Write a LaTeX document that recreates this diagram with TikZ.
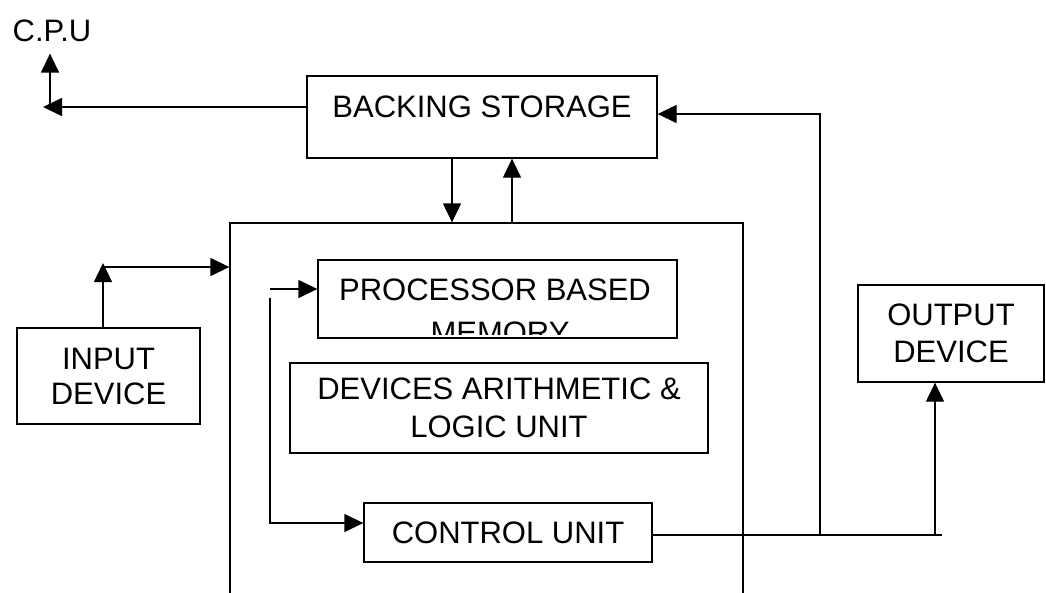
\documentclass[tikz,border=0pt]{standalone}
\usepackage{fontspec}
\setmainfont{Liberation Sans}
\usetikzlibrary{arrows.meta}
\begin{document}
\begin{tikzpicture}[x=1pt,y=-1pt,
  line width=1.3pt,
  box/.style={draw, rectangle, inner sep=0pt, align=center, font=\fontsize{31}{37}\selectfont},
  txt/.style={inner sep=0pt, font=\fontsize{31}{37}\selectfont},
  arr/.style={-{Triangle[length=19pt,width=18pt]}},
]
\useasboundingbox (0,0) rectangle (1046,592);
\clip (0,0) rectangle (1046,592);

% nodes
\node[txt, inner ysep=11pt] (cpul) at (52,31) {C.P.U};
\node[box, minimum width=350pt, text height=41pt, text depth=41pt] (bs) at (482,117) {BACKING STORAGE};
\node[draw, minimum width=513pt, minimum height=417pt, inner sep=0pt] (cpu) at (486.5,431.5) {};
\node[box, minimum width=183pt, minimum height=96pt, font=\fontsize{31}{35}\selectfont] (inp) at (108.5,376) {INPUT\\DEVICE};
\node[box, minimum width=186pt, minimum height=97pt] (out) at (951,333.5) {OUTPUT\\DEVICE};
\node[box, minimum width=418pt, minimum height=90pt, font=\fontsize{31}{38}\selectfont] (dal) at (499,408) {DEVICES ARITHMETIC \&\\LOGIC UNIT};
\node[box, minimum width=288pt, minimum height=59pt] (cu) at (508,532.5) {CONTROL UNIT};
\node[draw, minimum width=359pt, minimum height=78pt, inner sep=0pt,
  path picture={
    \clip ([yshift=4pt]path picture bounding box.south west) rectangle (path picture bounding box.north east);
    \node[txt, anchor=base] at ([shift={(-2.5,1)}]path picture bounding box.center) {PROCESSOR BASED};
    \node[txt, anchor=base] at ([shift={(2.5,44)}]path picture bounding box.center) {MEMORY};
  }] (pbm) at (497.5,299) {};

% coordinates
\coordinate (ctip) at (43,107);
\coordinate (cj) at (50,107);
\coordinate (dx) at (452,0);
\coordinate (ux) at (512,0);
\coordinate (i1) at (103,263);
\coordinate (i2) at (103,267);
\coordinate (p1) at (270,289);
\coordinate (p2) at (270,298);
\coordinate (p3) at (270,523);
\coordinate (o1) at (942,535);
\coordinate (o2) at (820,535);
\coordinate (o3) at (820,114);
\coordinate (o4) at (935,535);

% connectors
\draw[arr] ([yshift=10pt]bs.west) -- (ctip);
\draw[arr] (cj) -- (cj |- cpul.south);
\draw[arr] (bs.south -| dx) -- (cpu.north -| dx);
\draw[arr] (cpu.north -| ux) -- (bs.south -| ux);
\draw[arr] (inp.north -| i1) -- (i1);
\draw[arr] (i2) -- (i2 -| cpu.west);
\draw[arr] (p1) -- (p1 -| pbm.west);
\draw[arr] (p2) -- (p3) -- (p3 -| cu.west);
\draw (cu.east |- o1) -- (o1);
\draw[arr] (o2) -- (o3) -- (o3 -| bs.east);
\draw[arr] (o4) -- (o4 |- out.south);
\end{tikzpicture}
\end{document}
